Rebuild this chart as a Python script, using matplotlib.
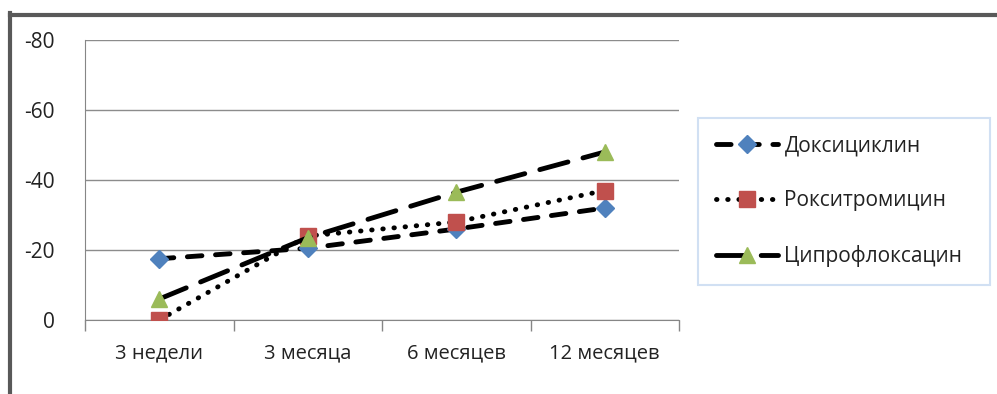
import matplotlib.pyplot as plt
from matplotlib.lines import Line2D

plt.rcParams['font.family'] = ['Open Sans', 'DejaVu Sans']
plt.rcParams['axes.unicode_minus'] = False

periods = ["3 недели", "3 месяца", "6 месяцев", "12 месяцев"]
doxy = [-17.5, -20.5, -26, -32]
roxi = [0, -24, -28, -37]
cipro = [-6, -23.5, -36.5, -48]

names = ["Доксициклин", "Рокситромицин", "Ципрофлоксацин"]
series = [doxy, roxi, cipro]
markers = ['D', 's', '^']
msizes = [9, 12, 12]
colours = ['#4F81BD', '#C0504D', '#9BBB59']
styles = [(0, (3, 2.8)), (0, (0.1, 2.2)), (0, (6, 3.2))]

fig = plt.figure(figsize=(9.97, 3.94), dpi=100)
ax = fig.add_axes([85 / 997, 1 - 320 / 394, 594 / 997, 280 / 394])

x = range(len(periods))
for vals, name, m, ms, c, ls in zip(series, names, markers, msizes, colours, styles):
    ax.plot(x, vals, color='black', lw=3.5, linestyle=ls, dash_capstyle='round',
            solid_capstyle='round', marker=m, markersize=ms, markerfacecolor=c,
            markeredgecolor=c, label=name, zorder=3)

ax.set_ylim(0, -80)
ax.set_yticks([0, -20, -40, -60, -80])
ax.set_xlim(-0.5, 3.5)
ax.set_xticks([-0.5, 0.5, 1.5, 2.5, 3.5])
ax.set_xticklabels([])
ax.set_xticks(list(x), minor=True)
ax.set_xticklabels(periods, minor=True)
ax.tick_params(axis='x', which='major', length=8, color='#868686', width=1)
ax.tick_params(axis='x', which='minor', length=0, pad=17, labelsize=14.5, labelcolor='#222222')
ax.tick_params(axis='y', length=0, pad=22, labelsize=15, labelcolor='#222222')
ax.yaxis.grid(True, color='#8c8c8c', lw=1)
ax.set_axisbelow(True)
for s in ['top', 'right']:
    ax.spines[s].set_visible(False)
for s in ['left', 'bottom']:
    ax.spines[s].set_color('#868686')
ax.spines['left'].set_bounds(0, -80)

leg = ax.legend(loc='upper left', bbox_to_anchor=(698 / 997, 1 - 285 / 394, 292 / 997, 167 / 394),
                bbox_transform=fig.transFigure, mode='expand', frameon=True, fancybox=False,
                fontsize=15, handlelength=3.0, handletextpad=0.3, labelspacing=1.62,
                borderpad=0.85, numpoints=1, borderaxespad=0)
leg.get_frame().set_edgecolor('#c6d9f1')
leg.get_frame().set_linewidth(1.5)
for t in leg.get_texts():
    t.set_color('#222222')

# outer frame of the chart area
fig.add_artist(Line2D([9.5 / 997, 9.5 / 997], [0, 1 - 13 / 394], color='#595959', lw=3))
fig.add_artist(Line2D([9.5 / 997, 1], [1 - 14.5 / 394, 1 - 14.5 / 394], color='#595959', lw=3))

fig.savefig('out.png', dpi=100)
